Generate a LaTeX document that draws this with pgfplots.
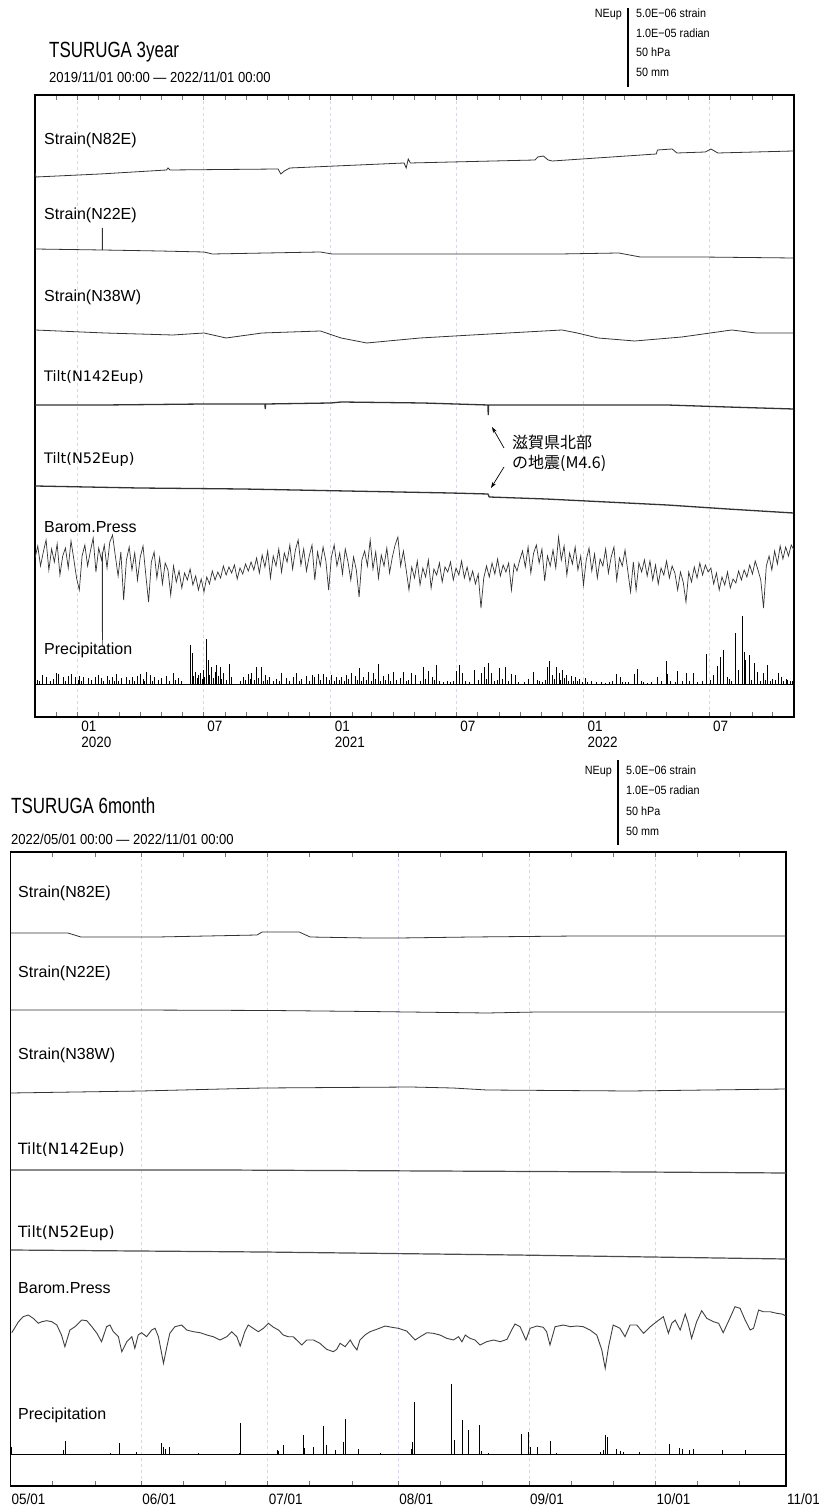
\documentclass[border=0pt]{standalone}
\usepackage{fontspec}
\setmainfont{Liberation Sans}
\newfontfamily\narrowfont[FakeStretch=0.9]{Liberation Sans}
\newfontfamily\titlefont[FakeStretch=0.77]{Liberation Sans}
\newfontfamily\tiltfont{DejaVu Sans}
\newfontfamily\cjk{Noto Sans CJK JP}
\usepackage{pgfplots}
\pgfplotsset{compat=1.18}
\usetikzlibrary{arrows.meta}

\definecolor{trace}{HTML}{333333}
\definecolor{gridc}{HTML}{D6D6EE}

\pgfplotsset{
  panel/.style={
    scale only axis, anchor=south west, y dir=reverse, ytick=\empty,
    axis line style={line width=1.2pt},
    tick align=inside, major tick length=5pt, minor tick length=5pt,
    tick style={line width=0.5pt, black!55},
    xmajorgrids, major grid style={dashed, gridc, line width=0.6pt},
    xticklabel style={anchor=north west, align=left, inner sep=1pt},
  },
  rain/.style={scale only axis, anchor=south west, hide axis,
    ymin=0, ymax=100, height=100pt},
  tr/.style={trace, line width=0.8pt, mark=none},
}

\begin{document}
\begin{tikzpicture}
\useasboundingbox (0,0) rectangle (819pt,1510pt);

% ---------------- 3 year panel ----------------
\begin{axis}[panel,
  at={(35pt,793pt)}, width=759pt, height=622pt,
  xmin=0, xmax=1096, ymin=95, ymax=717,
  xtick={61,243,427,608,792,973},
  xticklabels={{01\\2020},07,{01\\2021},07,{01\\2022},07},
  minor xtick={30,92,121,152,182,213,274,305,335,366,396,458,486,517,547,578,639,670,700,731,761,823,851,882,912,943,1004,1035,1065},
  xticklabel style={yshift=-3pt, xshift=3pt, font=\narrowfont\fontsize{15}{16}\selectfont},
]
% Strain(N82E)
\addplot[tr] coordinates {(0,173)(1.5,177)(94,174)(190,170)(192,168)(195,170)(351,169)(355,174)(360,171)(368,168)(533,163)(536,168)(539,159)(542,163)(722,160)(726,157)(734,156)(741,160)(747,161)(897,154)(899,150)(920,149)(927,153)(968,152)(976,149)(986,153)(1095,151)};
% Strain(N22E)
\addplot[tr] coordinates {(0,249)(97,250)(97.3,228)(97.6,250)(180,251)(244,252)(256,254)(412,252)(429,254)(527,254)(628,254)(758,254)(843,253)(874,257)(960,257)(1095,258)};
% Strain(N38W)
\addplot[tr] coordinates {(0,330)(101,333)(199,335)(244,333)(276,338)(328,333)(412,331)(442,338)(479,343)(556,338)(631,335)(761,330)(783,333)(813,338)(866,341)(934,337)(1006,330)(1041,333)(1095,333)};
% Tilt(N142Eup)
\addplot[tr, line width=1.3pt] coordinates {(0,405)(100,405)(244,404)(332,404)(332.5,409)(333,404)(427,403)(442,402)(560,403)(654,405)(654.5,415)(655,405)(760,405)(913,405)(1000,407)(1095,409)};
% Tilt(N52Eup)
\addplot[tr, line width=1.3pt] coordinates {(0,486)(150,488)(300,489)(450,491)(600,493)(654,494)(656,497)(738,499)(913,505)(1000,509)(1095,513)};
% Barom.Press
\addplot[tr, line width=0.7pt] coordinates {
(0,558)(4,546)(8,566)(12,552)(16,540)(20,570)(24,549)(28,562)(32,544)(36,575)(40,556)(44,548)(48,568)(52,541)(56,559)(60,578)(64,590)(68,556)(72,545)(76,566)(80,551)(84,538)(88,572)(92,548)(96,560)(100,545)(104,568)(108,542)(112,535)(116,556)(120,576)(124,552)(128,600)(132,560)(136,547)(140,570)(144,553)(148,580)(152,557)(156,546)(160,575)(164,602)(168,562)(172,552)(176,578)(180,558)(184,584)(188,563)(192,570)(196,595)(200,566)
(204,582)(208,571)(212,588)(216,573)(220,580)(224,569)(228,585)(232,576)(236,590)(240,579)(244,592)(248,577)(252,584)(256,571)(260,580)(264,572)(268,578)(272,566)(276,575)(280,567)(284,573)(288,565)(292,579)(296,568)(300,574)(304,564)(308,571)(312,562)(316,570)
(320,558)(324,573)(328,555)(332,567)(336,551)(340,578)(344,556)(348,566)(352,549)(356,572)(360,553)(364,562)(368,545)(372,569)(376,550)(380,540)
(384,565)(388,549)(392,571)(396,556)(400,545)(404,580)(408,552)(412,566)(416,547)(420,561)(424,590)(428,557)(432,545)(436,566)(440,553)(444,574)(448,549)(452,562)(456,580)(460,557)(464,570)(468,597)(472,560)(476,551)(480,566)(484,540)(488,569)(492,552)(496,578)(500,555)(504,566)(508,548)(512,573)(516,557)(520,545)(524,537)(528,566)(532,551)(536,570)(540,590)
(544,567)(548,578)(552,561)(556,585)(560,568)(564,577)(568,560)(572,588)(576,569)(580,575)(584,563)(588,582)(592,567)(596,572)(600,562)(604,580)(608,568)(612,575)(616,561)(620,578)
(624,567)(628,581)(632,571)(636,584)(640,574)(644,608)(648,578)(652,566)(656,577)(660,563)(664,574)(668,559)(672,576)(676,565)(680,572)(684,563)(688,590)(692,564)(696,571)(700,560)
(704,551)(708,567)(712,547)(716,573)(720,553)(724,545)(728,563)(732,549)(736,581)(740,556)(744,566)(748,550)(752,568)(756,537)(760,560)(764,546)(768,575)(772,553)(776,564)(780,547)(784,570)(788,556)(792,585)(796,560)(800,548)(804,571)(808,554)(812,578)(816,559)(820,566)(824,549)(828,573)(832,557)(836,547)(840,580)(844,558)(848,566)(852,550)(856,571)(860,592)(864,562)(868,590)(872,563)(876,572)
(880,560)(884,576)(888,561)(892,580)(896,565)(900,584)(904,568)(908,575)(912,561)(916,578)(920,566)(924,573)(928,590)(932,572)(936,582)(940,602)(944,572)(948,582)(952,567)(956,578)(960,563)(964,575)(968,565)(972,572)(976,568)
(980,584)(984,573)(988,590)(992,577)(996,585)(1000,572)(1004,588)(1008,579)(1012,583)(1016,571)(1020,580)(1024,570)
(1028,577)(1032,565)(1036,574)(1040,561)(1044,570)(1048,580)(1052,608)(1056,566)(1060,556)(1064,570)(1068,551)(1072,564)(1076,546)(1080,559)(1084,547)(1088,556)(1092,545)(1096,550)};
\addplot[tr, line width=0.7pt] coordinates {(97,552)(97.3,647)(97.6,556)};
% precipitation baseline
\addplot[black, line width=0.9pt] coordinates {(0,684)(1096,684)};
\end{axis}

\begin{axis}[rain, at={(35pt,826pt)}, width=759pt, xmin=0, xmax=1096]
\addplot[ycomb, black, line width=0.6pt, mark=none] coordinates {
(11,9)(16,7)(31,11)(34,10)(41,7)(48,8)(53,10)(58,7)(64,8)(70,7)(77,6)(87,7)(91,9)(96,6)(104,8)(111,7)(118,10)(125,6)(132,7)(140,7)(147,8)(152,10)(161,12)(166,9)(172,7)(183,6)(190,8)(200,11)(207,6)(224,39)(227,31)(231,12)(238,11)(243,14)(248,45)(250,24)(255,17)(260,12)(262,19)(267,17)(272,11)(281,20)(284,7)(301,7)(308,10)(313,11)(320,17)(327,17)(332,9)(339,7)(349,5)(356,11)(363,6)(373,7)(378,11)(385,5)(392,8)(400,9)(404,7)(409,10)(416,10)(421,7)(428,9)(435,7)(443,7)(450,9)(457,11)(462,8)(469,16)(474,7)(481,12)(488,11)(496,20)(503,8)(510,10)(517,12)(527,6)(532,12)
(544,11)(549,9)(561,17)(568,13)(573,7)(580,19)(590,2)(595,3)(608,13)(613,19)(617,11)(635,14)(644,11)(649,17)(655,21)(659,11)(671,16)(679,17)(688,10)(693,9)(713,5)(719,12)(725,4)(733,2)(740,17)(742,23)(747,9)(753,17)(757,11)(762,14)(767,9)(774,8)(780,7)(786,5)(794,6)(803,3)(811,2)(823,1)(830,2)(839,10)(845,7)(852,2)(866,10)(870,15)(879,2)(884,1)(899,7)(911,23)(913,10)(928,13)(940,11)(950,11)(970,30)(980,9)(985,18)(989,27)(994,34)(999,7)(1011,51)(1016,14)(1021,68)(1024,32)(1026,24)(1031,29)(1038,21)(1043,12)(1051,11)(1058,19)(1065,5)(1073,11)(1078,7)(1085,5)(1090,3)
(3,4)(6,3)(22,3)(26,5)(44,3)(62,4)(67,3)(82,4)(99,3)(108,4)(114,3)(121,3)(136,4)(144,3)(156,5)(158,3)(170,3)(178,4)(194,3)(203,4)(211,3)(229,8)(234,6)(236,9)(241,5)(245,7)(252,9)(257,6)(264,8)(269,5)(276,4)(297,3)(304,4)(311,5)(316,4)(323,6)(330,3)(336,4)(344,3)(353,3)(367,3)(381,3)(396,3)(412,4)(425,4)(432,3)(439,4)(446,3)(453,5)(466,4)(471,3)(478,4)(485,3)(492,5)(499,3)(506,4)(513,3)(521,4)(536,3)(539,4)(556,3)(564,5)(576,4)(584,3)(599,2)(604,3)(622,3)(627,2)(640,4)(652,5)(663,3)(667,4)(675,5)(684,3)(698,2)(706,2)(728,3)(737,4)(750,5)(759,4)(764,6)(770,3)(777,3)(783,3)(790,2)(798,2)(818,2)(834,3)(848,2)(857,2)(875,3)(890,2)(905,3)(918,3)(924,2)(935,3)(945,3)(957,2)(964,3)(975,4)(1003,5)(1006,3)(1034,4)(1048,3)(1055,4)(1062,3)(1069,4)(1081,3)(1087,4)(1093,3)};
\end{axis}

% ---------------- 6 month panel ----------------
\begin{axis}[panel,
  at={(10.5pt,24pt)}, width=775.5pt, height=634pt,
  xmin=0, xmax=184, ymin=852, ymax=1486,
  xtick={0,31,61,92,123,153,184},
  xticklabels={05/01,06/01,07/01,08/01,09/01,10/01,11/01},
  minor xtick={10,20,41,51,71,81,102,112,133,143,163,173},
  xticklabel style={yshift=-6pt, font=\narrowfont\fontsize{15}{17}\selectfont},
]
\addplot[tr] coordinates {(0,933)(13.6,933)(16.7,937)(34.8,937)(58.5,935)(59.7,932)(68.5,932)(71.1,937)(84.6,938)(92.1,938)(109.5,937)(134.4,936)(184,936)};
\addplot[tr] coordinates {(0,1010)(30,1010)(62,1010.5)(85,1011.5)(113,1013)(125,1012)(184,1012)};
\addplot[tr] coordinates {(0,1093)(31,1091)(60,1088)(95,1087)(105,1088)(113,1090)(147,1091)(184,1089)};
\addplot[tr, line width=1.2pt, black!70] coordinates {(0,1170)(50,1170)(100,1171)(150,1172)(184,1173)};
\addplot[tr, line width=1.2pt, black!70] coordinates {(0,1250)(60,1252)(120,1255)(184,1259)};
\addplot[tr, line width=0.9pt, black!75] coordinates {(0.3,1332.7)(1.9,1321.7)(3.0,1316.7)(4.2,1315)(5.4,1318.3)(6.6,1323.3)(7.4,1321.7)(8.6,1320.7)(9.8,1321.7)(11.0,1325)(12.1,1335)(12.9,1346.7)(14.1,1330)(15.3,1326.7)(16.9,1320)(18.1,1320.7)(19.3,1326.7)(20.5,1333.3)(21.6,1341.7)(22.8,1326.7)(23.6,1325)(24.4,1331.7)(25.6,1336.7)(26.4,1351.7)(27.6,1341.7)(28.8,1336.7)(29.5,1348.3)(30.3,1335)(31.1,1332.7)(32.3,1336.7)(33.5,1330)(34.3,1328.3)(35.1,1336.7)(36.3,1363.3)(37.1,1346.7)(37.8,1333.3)(39.0,1326.7)(40.6,1325)(41.8,1330)(43.4,1331.7)(45.0,1332.7)(46.6,1335)(48.1,1336.7)(49.7,1340)(51.3,1336.7)(52.5,1331.7)(53.7,1336.7)(54.5,1346)(55.6,1331.7)(56.4,1325)(57.6,1328.3)(58.8,1331.7)(60.0,1328.3)(61.2,1323.3)(62.4,1327.3)(63.6,1330)(64.7,1335)(65.9,1336.7)(67.1,1336.7)(68.3,1341.7)(69.1,1345)(70.3,1340)(71.9,1340)(73.4,1343.3)(75.0,1349.3)(76.6,1351.7)(77.4,1349.3)(78.2,1343.3)(79.4,1346.7)(80.6,1340)(81.3,1345)(82.2,1350)(82.9,1340)(84.1,1335)(85.3,1331.7)(86.9,1329.3)(88.9,1326)(90.5,1327.3)(92.0,1328.3)(94.0,1331)(96.0,1340)(97.2,1336.7)(98.8,1332.7)(100.3,1333.3)(101.9,1335)(103.5,1338.3)(105.1,1340)(106.3,1336.7)(107.1,1341.7)(107.9,1335)(109.0,1338.3)(110.2,1340)(111.4,1345)(113.0,1341.7)(114.6,1340)(116.2,1341.7)(117.8,1339.3)(118.9,1330)(119.7,1324)(120.9,1326.7)(122.3,1340)(123.3,1328.3)(124.9,1326)(126.4,1327.3)(127.2,1331.7)(128.0,1345)(129.2,1326.7)(131.2,1325)(132.8,1326.7)(134.4,1326)(135.9,1326.7)(137.5,1330)(139.1,1335)(140.3,1350)(141.1,1368.3)(141.9,1346.7)(143.0,1325)(144.6,1328.3)(145.8,1336.7)(147.0,1325)(148.6,1325)(150.2,1333.3)(151.8,1326.7)(153.3,1321.7)(154.9,1316.7)(156.1,1333.3)(156.9,1323.3)(157.7,1320)(158.9,1330)(160.1,1314)(160.8,1323.3)(161.6,1338.3)(162.8,1321.7)(164.0,1310.7)(165.2,1318.3)(166.8,1321.7)(168.0,1323.3)(169.1,1332.7)(170.3,1321.7)(171.9,1306.7)(173.1,1308.3)(174.3,1320)(175.5,1330)(176.3,1328.3)(177.5,1310)(178.6,1311.7)(180.2,1311.7)(181.8,1313.3)(183.0,1314)(184,1316)};
\addplot[black, line width=0.9pt] coordinates {(0,1454)(184,1454)};
\end{axis}

\begin{axis}[rain, at={(10.5pt,56pt)}, width=775.5pt, xmin=0, xmax=184]
\addplot[ycomb, black, line width=0.7pt, mark=none] coordinates {
(0.3,7)(12.5,4)(12.9,13)(23.7,1)(25.8,11)(29.9,1.5)(35.9,11)(36.3,7)(36.8,5)(37.8,7)(44.6,1)(54.3,1)(54.6,31)(63.2,4)(63.5,3)(64.7,9)(69.5,19)(69.8,6)(71.9,7)(74.2,28)(75.0,9)(77.0,4)(79.0,12)(79.5,35)(82.5,5)(87.7,1)
(95.0,5)(95.4,12)(95.8,52)(104.7,70)(105.2,14)(107.2,34)(108.7,24)(111.2,29)(111.6,3)(113.4,1)(121.3,20)(122.8,22)(123.3,7)(125.1,7)(128.2,13)(129.5,1)(140,1.5)(140.6,4)(141.1,19)(141.6,17)(143.8,5)(144.8,3)(145.3,2)(149.1,2)(156.3,10)(158.7,6)(159.3,5)(161.1,4)(161.9,5)(168.8,4)(174.3,4)};
\end{axis}

% ---------------- labels ----------------
\begin{scope}[every node/.style={inner sep=0pt}]
% 3 year header
\node[anchor=base west, font=\titlefont\fontsize{22}{22}\selectfont] at (49pt,1452pt) {TSURUGA 3year};
\node[anchor=base west, font=\narrowfont\fontsize{14.5}{15}\selectfont] at (49pt,1427pt) {2019/11/01 00:00 — 2022/11/01 00:00};
\node[anchor=base east, font=\narrowfont\fontsize{12}{12}\selectfont] at (622pt,1492pt) {NEup};
\draw[line width=1.2pt] (628pt,1502pt) -- (628pt,1423pt);
\begin{scope}[every node/.style={anchor=base west, inner sep=0pt, font=\narrowfont\fontsize{12}{12}\selectfont}]
\node at (636pt,1492pt) {5.0E−06 strain};
\node at (636pt,1472pt) {1.0E−05 radian};
\node at (636pt,1453pt) {50 hPa};
\node at (636pt,1433pt) {50 mm};
\end{scope}
% 3 year trace labels
\begin{scope}[every node/.style={anchor=west, inner sep=0pt, font=\fontsize{16}{18}\selectfont}]
\node at (44pt,1370pt) {Strain(N82E)};
\node at (44pt,1295pt) {Strain(N22E)};
\node at (44pt,1213pt) {Strain(N38W)};
\node[font=\tiltfont\fontsize{14.5}{17}\selectfont] at (44pt,1132pt) {Tilt(N142Eup)};
\node[font=\tiltfont\fontsize{14.5}{17}\selectfont] at (44pt,1050pt) {Tilt(N52Eup)};
\node at (44pt,983pt) {Barom.Press};
\node at (44pt,860pt) {Precipitation};
\end{scope}
% earthquake note
\node[anchor=west, font=\cjk\fontsize{16}{18}\selectfont] at (512pt,1068pt) {滋賀県北部};
\node[anchor=west, font=\cjk\fontsize{16}{18}\selectfont] at (512pt,1047pt) {の地震(M4.6)};
\draw[-{Stealth[length=6pt,width=4pt]}, line width=0.7pt] (504pt,1062pt) -- (492pt,1083pt);
\draw[-{Stealth[length=6pt,width=4pt]}, line width=0.7pt] (504pt,1043pt) -- (491pt,1022pt);

% 6 month header
\node[anchor=base west, font=\titlefont\fontsize{22}{22}\selectfont] at (11pt,696pt) {TSURUGA 6month};
\node[anchor=base west, font=\narrowfont\fontsize{14.5}{15}\selectfont] at (11pt,665pt) {2022/05/01 00:00 — 2022/11/01 00:00};
\node[anchor=base east, font=\narrowfont\fontsize{12}{12}\selectfont] at (612pt,735pt) {NEup};
\draw[line width=1.2pt] (618pt,750pt) -- (618pt,665pt);
\begin{scope}[every node/.style={anchor=base west, inner sep=0pt, font=\narrowfont\fontsize{12}{12}\selectfont}]
\node at (626pt,735pt) {5.0E−06 strain};
\node at (626pt,715pt) {1.0E−05 radian};
\node at (626pt,694pt) {50 hPa};
\node at (626pt,674pt) {50 mm};
\end{scope}
% 6 month trace labels
\begin{scope}[every node/.style={anchor=west, inner sep=0pt, font=\fontsize{16}{18}\selectfont}]
\node at (18pt,617pt) {Strain(N82E)};
\node at (18pt,537pt) {Strain(N22E)};
\node at (18pt,455pt) {Strain(N38W)};
\node[font=\tiltfont\fontsize{15.5}{18}\selectfont] at (18pt,360pt) {Tilt(N142Eup)};
\node[font=\tiltfont\fontsize{15.5}{18}\selectfont] at (18pt,277pt) {Tilt(N52Eup)};
\node at (18pt,222pt) {Barom.Press};
\node at (18pt,95pt) {Precipitation};
\end{scope}
\end{scope}
\end{tikzpicture}
\end{document}
